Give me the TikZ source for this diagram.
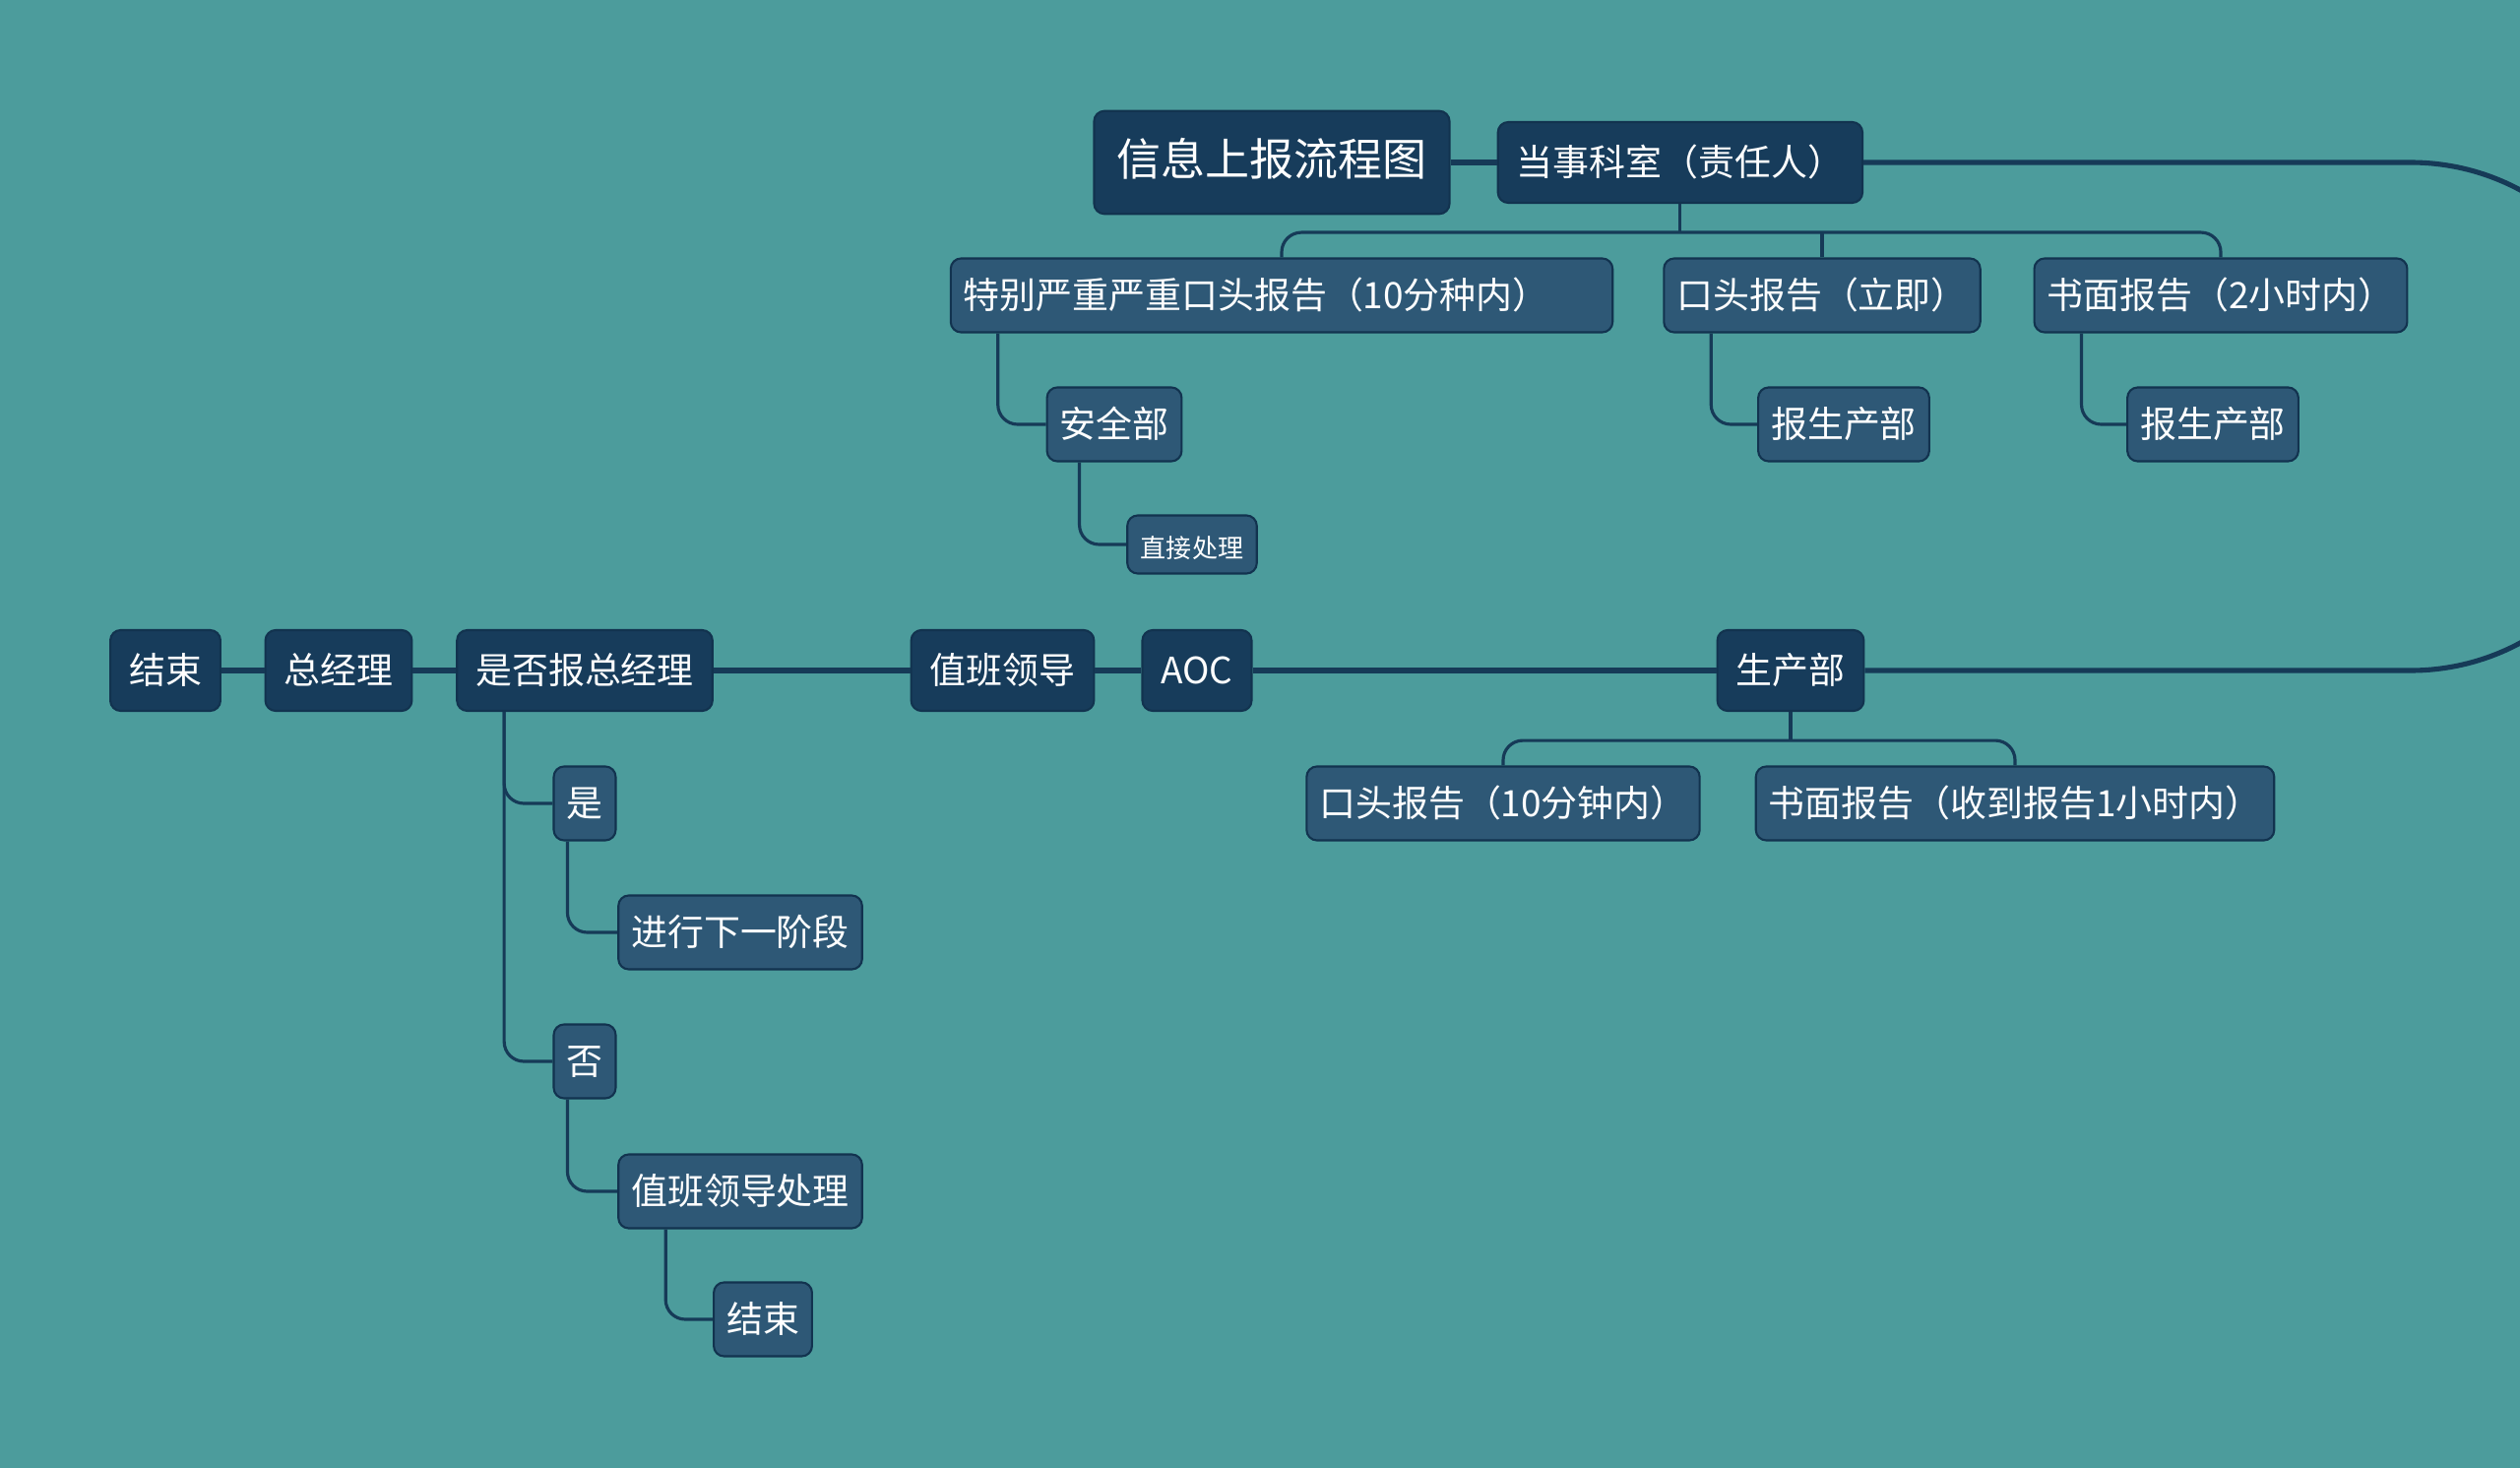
\documentclass[tikz,border=0pt]{standalone}
\usepackage{fontspec}
\setmainfont{Noto Sans CJK SC}
\usetikzlibrary{positioning, calc}

\definecolor{bgteal}{HTML}{4C9C9C}
\definecolor{navy}{HTML}{173C5B}
\definecolor{slate}{HTML}{2E5876}
\definecolor{edge}{HTML}{12334F}
\definecolor{wire}{HTML}{163A57}

\begin{document}
\begin{tikzpicture}[
  x=0.01cm, y=-0.01cm,
  node distance=4.7mm,
  box/.style={rounded corners=3pt, draw=edge, line width=0.6pt, text=white,
              font=\fontsize{10.5}{12}\selectfont, text height=0.85em, text depth=0.11em},
  head/.style={box, fill=navy, minimum height=8.2mm, inner xsep=1.9mm},
  title/.style={head, font=\fontsize{12.8}{15}\selectfont, minimum height=10.45mm, inner xsep=2.3mm},
  sub/.style={box, fill=slate, minimum height=7.5mm, inner xsep=1.3mm},
  tiny/.style={sub, font=\fontsize{7.4}{9}\selectfont, minimum height=5.9mm, inner xsep=1.37mm},
  flow/.style={draw=wire, line width=1.45pt},
  branch/.style={draw=wire, line width=0.9pt, rounded corners=2mm},
]

\clip (0,0) rectangle (2560,1491);
\fill[bgteal] (0,0) rectangle (2560,1491);

% ================= top: reporting department =================
\node[title] (title) at (1292,165) {信息上报流程图};
\node[head, right=of title] (dangshi) {当事科室（责任人）};

\node[sub, text width=64.6mm, align=left] (tebie) at (1302,300) {特别严重严重口头报告（10分种内）};
\node[sub] (koutou1) at (1851,300) {口头报告（立即）};
\node[sub] (shumian1) at (2256,300) {书面报告（2小时内）};

\node[sub] (anquan) at (1132,431) {安全部};
\node[sub] (bao1) at (1873,431) {报生产部};
\node[sub] (bao2) at (2248,431) {报生产部};
\node[tiny] (zhijie) at (1211,553) {直接处理};

% ================= main row =================
\node[head] (shengchan) at (1819,681) {生产部};
\node[head] (aoc) at (1216,681) {AOC};
\node[head, left=of aoc] (zhiban) {值班领导};
\node[head] (shifou) at (594,681) {是否报总经理};
\node[head] (zong) at (344,681) {总经理};
\node[head] (end1) at (168,681) {结束};

\node[sub] (koutou2) at (1527,816) {口头报告（10分钟内）};
\node[sub] (shumian2) at (2047,816) {书面报告（收到报告1小时内）};

% ================= decision =================
\node[sub] (shi) at (594,816) {是};
\node[sub] (jinxing) at (752,947) {进行下一阶段};
\node[sub] (fou) at (594,1078) {否};
\node[sub] (zbcl) at (752,1210) {值班领导处理};
\node[sub] (end2) at (775,1340) {结束};

% main flow, looping round on the right
\coordinate (loopR) at (2684,0);
\draw[flow] (title) -- (dangshi);
\draw[flow, rounded corners=2.35cm] (dangshi.east) -| (loopR |- shengchan) -- (shengchan.east);
\draw[flow] (shengchan) -- (aoc);
\draw[flow] (aoc) -- (zhiban);
\draw[flow] (zhiban) -- (shifou);
\draw[flow] (shifou) -- (zong);
\draw[flow] (zong) -- (end1);

% branches
\draw[branch] (dangshi.south) -- ++(0,29) coordinate (bus1);
\draw[branch] (tebie.north) |- (shumian1.north |- bus1) -- (shumian1.north);
\draw[branch] (koutou1.north) -- (koutou1.north |- bus1);
\draw[branch] ($(tebie.south west)+(49,0)$) |- (anquan.west);
\draw[branch] ($(anquan.south west)+(34,0)$) |- (zhijie.west);
\draw[branch] ($(koutou1.south west)+(49,0)$) |- (bao1.west);
\draw[branch] ($(shumian1.south west)+(49,0)$) |- (bao2.west);

\draw[branch] (shengchan.south) -- ++(0,29) coordinate (bus2);
\draw[branch] (koutou2.north) |- (shumian2.north |- bus2) -- (shumian2.north);

\draw[branch] ($(shifou.south west)+(49,0)$) coordinate (yn) |- (shi.west);
\draw[branch] (yn) |- (fou.west);
\draw[branch] ($(shi.south west)+(15,0)$) |- (jinxing.west);
\draw[branch] ($(fou.south west)+(15,0)$) |- (zbcl.west);
\draw[branch] ($(zbcl.south west)+(49,0)$) |- (end2.west);

\end{tikzpicture}
\end{document}
